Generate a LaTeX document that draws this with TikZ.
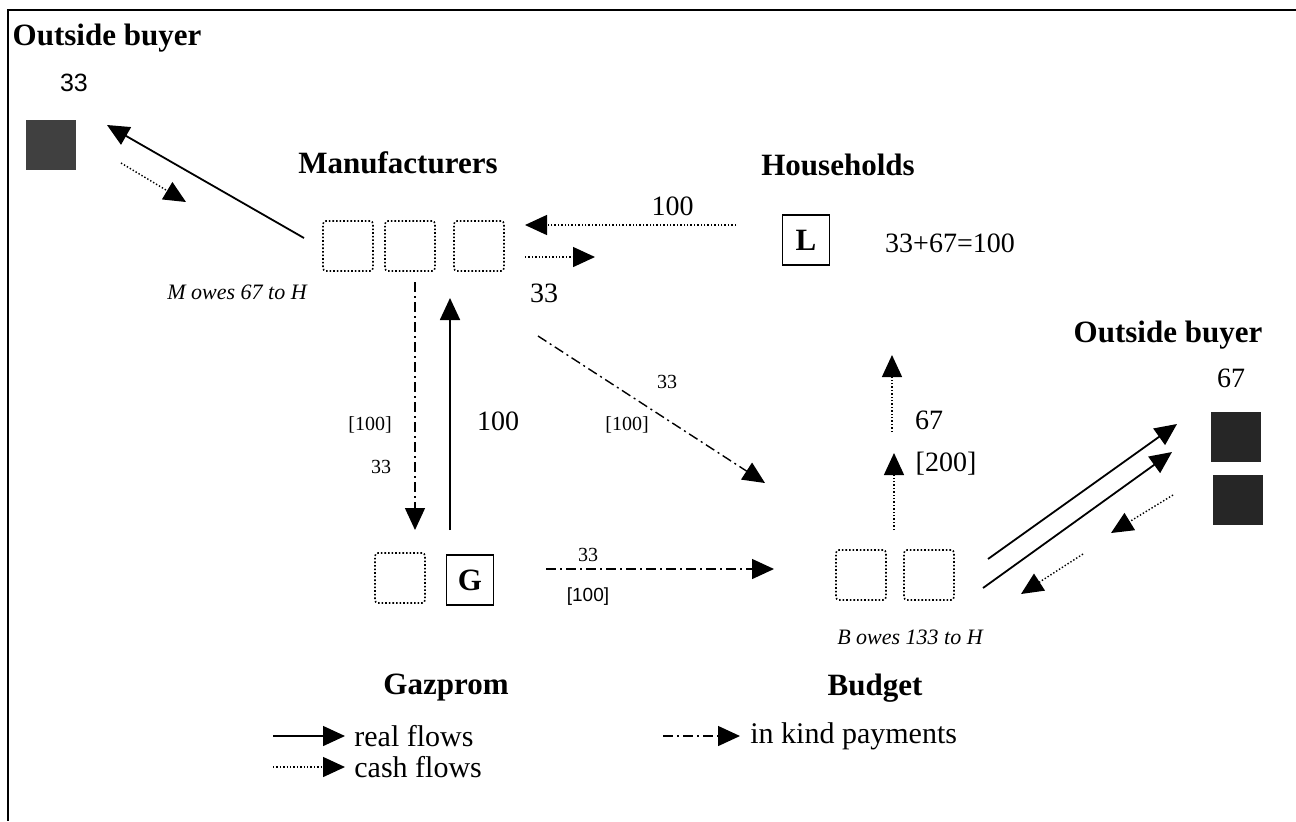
\documentclass[tikz,border=0pt]{standalone}
\usepackage{fontspec}
\setmainfont{Liberation Serif}
\newfontfamily\arialfont{Liberation Sans}
\usetikzlibrary{arrows.meta}

\tikzset{
  head/.style={-{Triangle[length=11pt,width=10pt]}},
  real/.style={head, line width=0.9pt},
  cash/.style={head, line width=0.7pt, densely dotted},
  inkind/.style={head, line width=0.7pt, dash pattern=on 5pt off 2pt on 1pt off 2pt},
  title/.style={font=\fontsize{15.5}{18}\selectfont\bfseries},
  num/.style={font=\fontsize{14}{16}\selectfont},
  small/.style={font=\fontsize{10}{12}\selectfont},
  owes/.style={font=\fontsize{11}{13}\selectfont\itshape},
  key/.style={font=\fontsize{15}{18}\selectfont, anchor=west, inner xsep=0pt},
  firm/.style={draw, densely dotted, line width=0.8pt, rounded corners=1.5pt,
    minimum width=25pt, minimum height=25pt, inner sep=0pt},
  agent/.style={draw, line width=0.7pt, minimum width=23.5pt, minimum height=25pt,
    inner sep=0pt, font=\fontsize{15.5}{18}\selectfont\bfseries},
  buyer/.style={fill=black!85, minimum size=25pt, inner sep=0pt}
}

\begin{document}
\begin{tikzpicture}[x=0.5pt,y=-0.5pt]
\useasboundingbox (0,0) rectangle (1296,821);
% frame
\draw[line width=0.9pt] (1296,10) -- (8,10) -- (8,821);

% outside buyer, top left
\node[title] (obuyl) at (107,38) {Outside buyer};
\node[font=\arialfont\fontsize{12.5}{15}\selectfont] (obuyln) at (74,83) {33};
\node[buyer, fill=black!75] (sqa) at (51,145) {};

% manufacturers
\node[title] (manu) at (398,163) {Manufacturers};
\node[firm] (m1) at (348,246) {};
\node[firm] (m2) at (410,246) {};
\node[firm] (m3) at (479,246) {};
\node[owes] (mowes) at (237,292) {M owes 67 to H};

% households
\node[title] (hh) at (838,165) {Households};
\node[agent] (L) at (806,240) {L};
\node[num] (sum) at (950,243) {33+67=100};

% gazprom
\node[firm] (g1) at (400,578) {};
\node[agent] (G) at (470,580) {G};
\node[title] (gaz) at (446,688) {Gazprom};

% budget
\node[firm] (b1) at (861,575) {};
\node[firm] (b2) at (929,575) {};
\node[owes] (bowes) at (910,637) {B owes 133 to H};
\node[title] (bud) at (875,688) {Budget};

% outside buyer, right
\node[title] (obuyr) at (1168,335) {Outside buyer};
\node[num] (obuyrn) at (1231,378) {67};
\node[buyer] (sqb) at (1236,437) {};
\node[buyer] (sqc) at (1238,500) {};

% free ends of the flows
\coordinate (ma) at (304,238);
\coordinate (oa) at (107,125);
\coordinate (oc) at (121,163);
\coordinate (mc) at (186,202);
\coordinate (la) at (736,225);
\coordinate (mb) at (525,225);
\coordinate (mo) at (525,257);
\coordinate (mp) at (595,257);
\coordinate (md) at (415,282);
\coordinate (gd) at (415,530);
\coordinate (gu) at (450,530);
\coordinate (mu) at (450,298);
\coordinate (ms) at (538,336);
\coordinate (bs) at (765,483);
\coordinate (gr) at (546,569);
\coordinate (br) at (774,569);
\coordinate (bu1) at (894,530);
\coordinate (hu1) at (894,453);
\coordinate (bu2) at (892,432);
\coordinate (hu2) at (892,355);
\coordinate (bo1) at (988,559);
\coordinate (ob1) at (1177,424);
\coordinate (bo2) at (983,588);
\coordinate (ob2) at (1172,452);
\coordinate (ot1) at (1173,495);
\coordinate (bt1) at (1111,533);
\coordinate (ot2) at (1083,554);
\coordinate (bt2) at (1021,594);

% flows
\draw[real] (ma) -- (oa);
\draw[cash] (oc) -- (mc);
\draw[cash] (la) -- node[num, above=1pt, pos=0.3] (l100) {100} (mb);
\draw[cash] (mo) -- (mp);
\node[num] (m33) at (544,293) {33};
\draw[inkind] (md) -- (gd);
\node[small] (d100) at (370,425) {[100]};
\node[small] (d33) at (381,467) {33};
\draw[real] (gu) -- (mu);
\node[num] (u100) at (498,421) {100};
\draw[inkind] (ms) -- (bs);
\node[small] (s33) at (667,382) {33};
\node[small] (s100) at (627,425) {[100]};
\draw[inkind] (gr) -- (br);
\node[small] (r33) at (588,555) {33};
\node[font=\arialfont\fontsize{9.5}{12}\selectfont] (r100) at (588,597) {[100]};
\draw[cash] (bu1) -- (hu1);
\draw[cash] (bu2) -- (hu2);
\node[num] (h67) at (929,420) {67};
\node[num] (h200) at (946,464) {[200]};
\draw[real] (bo1) -- (ob1);
\draw[real] (bo2) -- (ob2);
\draw[cash] (ot1) -- (bt1);
\draw[cash] (ot2) -- (bt2);

% legend
\coordinate (ka) at (273,736);
\coordinate (kb) at (345,736);
\coordinate (kc) at (273,767);
\coordinate (kd) at (345,767);
\coordinate (ke) at (663,736);
\coordinate (kf) at (740,736);
\draw[real, line width=0.7pt] (ka) -- (kb);
\node[key] (kreal) at (354,736) {real flows};
\draw[cash] (kc) -- (kd);
\node[key] (kcash) at (354,767) {cash flows};
\draw[inkind] (ke) -- (kf);
\node[key] (kind) at (750,736) {in kind payments};
\end{tikzpicture}
\end{document}
